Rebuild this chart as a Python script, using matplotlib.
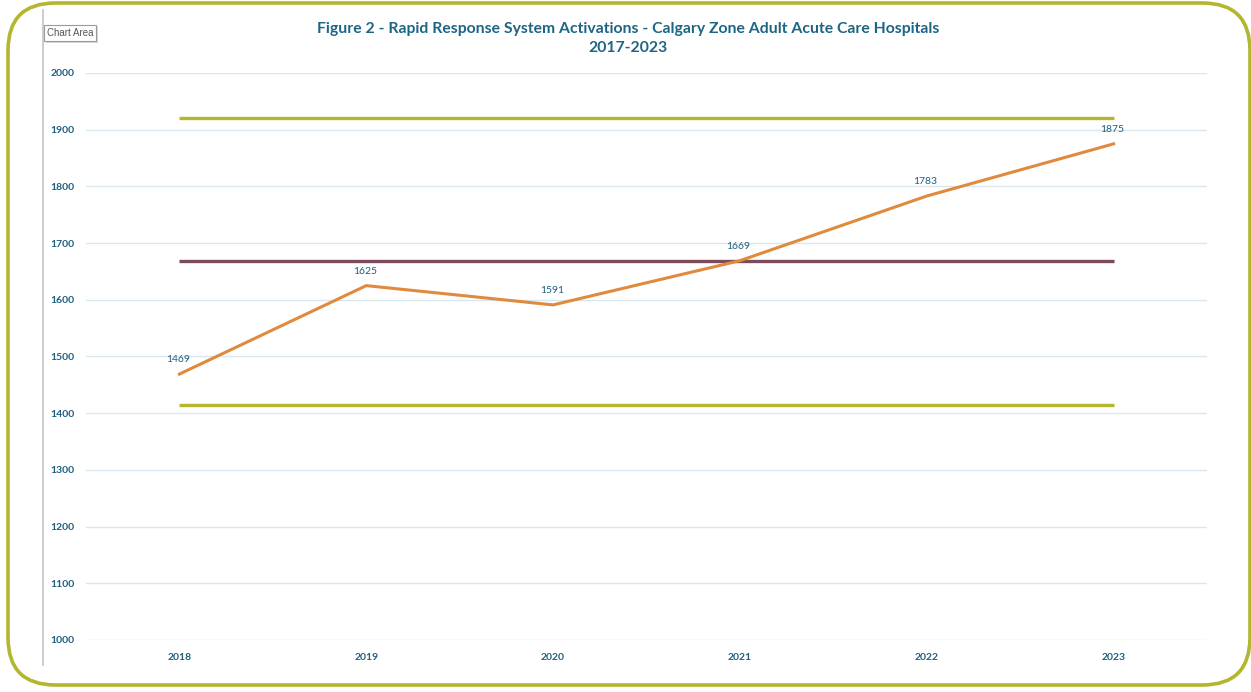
import matplotlib
matplotlib.use('Agg')
import matplotlib.pyplot as plt
from matplotlib.patches import FancyBboxPatch
from matplotlib.lines import Line2D

# --- data ---
years = ['2018', '2019', '2020', '2021', '2022', '2023']
activations = [1469, 1625, 1591, 1669, 1783, 1875]
mean_line = 1669
upper_limit = 1920
lower_limit = 1415
y_ticks = [1000, 1100, 1200, 1300, 1400, 1500, 1600, 1700, 1800, 1900, 2000]

title = ('Figure 2 - Rapid Response System Activations - Calgary Zone Adult Acute Care Hospitals\n'
         '2017-2023')

TEXT = '#1f5f7e'
ORANGE = '#e08a3e'
OLIVE = '#b3b62e'
MAUVE = '#7b4b5c'
GRID = '#d9e7ef'

plt.rcParams['font.family'] = ['Lato', 'DejaVu Sans']

W, H = 1251, 692
fig = plt.figure(figsize=(W / 100, H / 100), dpi=100, facecolor='white')

# rounded olive frame around the whole picture
frame = FancyBboxPatch((8 / W, 7 / H), 1242 / W, 682 / H,
                       boxstyle='round,pad=0,rounding_size=0.038',
                       transform=fig.transFigure, fill=False,
                       edgecolor=OLIVE, linewidth=2.6,
                       mutation_aspect=W / H)
fig.patches.append(frame)

# thin grey edge of the chart area
fig.add_artist(Line2D([43 / W, 43 / W], [1 - 10 / H, 1 - 665 / H],
                      transform=fig.transFigure, color='#c4c4c4', lw=1.2))

# "Chart Area" tooltip box (with a soft shadow)
fig.text(49 / W, 1 - 35 / H, 'Chart Area', fontsize=7, color='#e0e0e0',
         va='center', ha='left', family=['Liberation Sans'],
         bbox=dict(boxstyle='square,pad=0.3', fc='#d8d8d8', ec='none'))
fig.text(47 / W, 1 - 33 / H, 'Chart Area', fontsize=7, color='#555555',
         va='center', ha='left', family=['Liberation Sans'],
         bbox=dict(boxstyle='square,pad=0.3', fc='white', ec='#9a9a9a', lw=0.8))

ax = fig.add_axes([86 / W, 52 / H, 1121 / W, 567 / H])
x = list(range(len(years)))

ax.set_ylim(1000, 2000)
ax.set_xlim(-0.5, len(years) - 0.5)
ax.set_yticks(y_ticks)
ax.grid(axis='y', color=GRID, lw=1.0)
ax.set_axisbelow(True)
for s in ax.spines.values():
    s.set_visible(False)
ax.tick_params(length=0, colors=TEXT, labelsize=7.5)
ax.set_xticks(x)
ax.set_xticklabels(years, fontweight='bold')
for lab in ax.get_yticklabels():
    lab.set_fontweight('bold')
ax.tick_params(axis='y', pad=8)
ax.tick_params(axis='x', pad=9)

ax.plot(x, [upper_limit] * len(x), color=OLIVE, lw=2.4, solid_capstyle='butt')
ax.plot(x, [lower_limit] * len(x), color=OLIVE, lw=2.4, solid_capstyle='butt')
ax.plot(x, [mean_line] * len(x), color=MAUVE, lw=2.4, solid_capstyle='butt')
ax.plot(x, activations, color=ORANGE, lw=2.2)

for xi, v in zip(x, activations):
    ax.annotate(str(v), (xi, v), xytext=(-1, 7), textcoords='offset points',
                ha='center', va='bottom', fontsize=7.5, color=TEXT)

fig.text(628 / W, 1 - 38.5 / H, title, ha='center', va='center', fontsize=11.3,
         fontweight='bold', color='#1d6585', linespacing=1.4)

fig.savefig('out.png', dpi=100, facecolor='white')
